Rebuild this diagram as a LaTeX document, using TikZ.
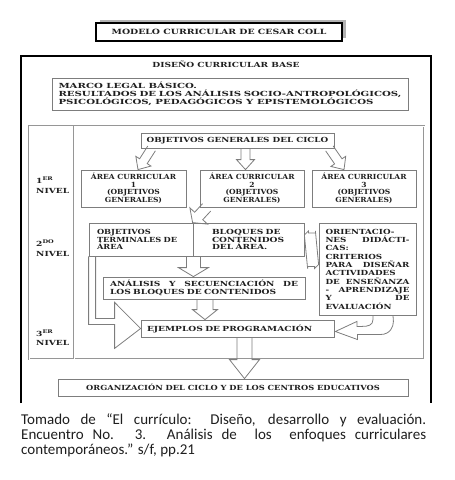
\documentclass[tikz,border=0pt]{standalone}
\usepackage{fontspec}
\setmainfont{Carlito}
\newfontfamily\dfont{DejaVu Serif}
\usetikzlibrary{calc,shadows}
\definecolor{bgray}{RGB}{125,125,125}
\definecolor{lgray}{RGB}{150,150,150}
\definecolor{ink}{RGB}{30,30,30}
\tikzset{
  dtext/.style={font=\dfont\bfseries\fontsize{7}{7.5}\selectfont\addfontfeatures{FakeStretch=#1}, text=ink},
  dtext/.default=1.3,
  box/.style={draw=bgray, line width=0.8pt, dtext=#1, inner sep=0pt},
  box/.default=1.3,
  arrowline/.style={draw=bgray, line width=0.8pt, line join=miter},
  levelbox/.style={draw=lgray, line width=0.5pt, double=white, double distance=0.7pt},
  lvl/.style={font=\dfont\bfseries\fontsize{7}{9.5}\selectfont\addfontfeatures{FakeStretch=1.3}, text=ink, align=left, anchor=west, inner sep=0pt},
}
\newcommand\jline[1]{\hbox to 84pt{#1}}
\newcommand\blockarrow[5]{%
  \draw[arrowline] let \p1=(#1), \p2=(#2),
    \n1={atan2(\y2-\y1,\x2-\x1)}, \n2={veclen(\x2-\x1,\y2-\y1)} in
    ($(\p1)+(\n1+90:#3)$) -- ($(\p1)+(\n1+90:#3)+(\n1:\n2-#5)$)
    -- ($(\p1)+(\n1+90:#4)+(\n1:\n2-#5)$) -- (\p2)
    -- ($(\p1)+(\n1-90:#4)+(\n1:\n2-#5)$) -- ($(\p1)+(\n1-90:#3)+(\n1:\n2-#5)$)
    -- ($(\p1)+(\n1-90:#3)$);
}
\begin{document}
\begin{tikzpicture}[x=1pt,y=-1pt]
\useasboundingbox (0,0) rectangle (455,480);

% title
\node[draw=black, line width=1.8pt, minimum width=246, minimum height=18, inner sep=0pt,
      text=ink, font=\dfont\bfseries\fontsize{7.2}{8}\selectfont\addfontfeatures{FakeStretch=1.3}, fill=white,
      general shadow={fill=gray!60, shadow xshift=4pt, shadow yshift=3pt}]
      (title) at (219,32) {MODELO CURRICULAR DE CESAR COLL};

% outer frame
\draw[black, line width=1.6pt] (21,403) -- (21,56) -- (431,56) -- (431,403);
\node[dtext] (dcb) at (226,64) {DISEÑO CURRICULAR BASE};

\node[box=1.45, minimum height=32, text width=343, inner xsep=6.5pt, align=justify] (marco) at (230,94)
  {MARCO LEGAL BÁSICO.\\
   RESULTADOS\hfill DE\hfill LOS\hfill ANÁLISIS\hfill SOCIO-ANTROPOLÓGICOS,\\
   PSICOLÓGICOS, PEDAGÓGICOS Y EPISTEMOLÓGICOS};

% level frame
\draw[levelbox] (29,126) rectangle (424,359);
\draw[levelbox] (74,126) -- (74,359);

\node[lvl] (n1) at (36,185) {1\textsuperscript{ER}\\NIVEL};
\node[lvl] (n2) at (36,248) {2\textsuperscript{DO}\\NIVEL};
\node[lvl] (n3) at (36,337.5) {3\textsuperscript{ER}\\NIVEL};

% boxes
\node[box=1.26, minimum width=193, minimum height=15] (og) at (237.5,140.5) {OBJETIVOS GENERALES DEL CICLO};
\node[box=1.08, minimum width=105, minimum height=37, align=center] (a1) at (133.5,188.5) {ÁREA CURRICULAR\\1\\(OBJETIVOS\\GENERALES)};
\node[box=1.08, minimum width=104, minimum height=37, align=center] (a2) at (252,188.5) {ÁREA CURRICULAR\\2\\(OBJETIVOS\\GENERALES)};
\node[box=1.08, minimum width=104, minimum height=37, align=center] (a3) at (364,188.5) {ÁREA CURRICULAR\\3\\(OBJETIVOS\\GENERALES)};

\node[box=1.18, minimum height=33, text width=88, inner xsep=8pt, align=left] (ot) at (141,239.5) {OBJETIVOS\\TERMINALES DE\\ÁREA};
\node[box=1.3, minimum height=33, text width=73, inner xsep=19pt, align=left] (bl) at (248.5,239.5) {BLOQUES DE\\CONTENIDOS\\DEL ÁREA.};
\node[box, minimum height=92, minimum width=97, inner sep=0pt,
      font=\dfont\bfseries\fontsize{7}{8.33}\selectfont\addfontfeatures{FakeStretch=1.25}] (or) at (367.5,269)
  {\vbox{\jline{ORIENTACIO-\hfill}\jline{NES\hfill DIDÁCTI-}\jline{CAS:\hfill}\jline{CRITERIOS\hfill}\jline{PARA\hfill DISEÑAR}\jline{ACTIVIDADES\hfill}\jline{DE\hfill ENSEÑANZA}\jline{-\hfill APRENDIZAJE}\jline{Y\hfill DE}\jline{EVALUACIÓN\hfill}}};

\node[box, minimum height=22, text width=188, inner xsep=7pt, align=left] (an) at (204,288)
  {ANÁLISIS\hfill Y\hfill SECUENCIACIÓN\hfill DE\\LOS BLOQUES DE CONTENIDOS};
\node[box, minimum height=17, text width=181, inner xsep=6pt, align=left] (ej) at (237.5,328.5) {EJEMPLOS DE PROGRAMACIÓN};
\node[box=1.18, minimum width=350, minimum height=17] (org) at (233,387.5) {ORGANIZACIÓN DEL CICLO Y DE LOS CENTROS EDUCATIVOS};

% block arrows
\blockarrow{$(og.south west)+(11,0)$}{$(a1.north)+(4.5,0)$}{4.5pt}{9pt}{10pt}
\blockarrow{$(og.south)+(8,0)$}{$(a2.north)+(-6.5,0)$}{4.5pt}{9pt}{10pt}
\blockarrow{$(og.south east)+(-5,0)$}{$(a3.north)+(-20,0)$}{4.5pt}{9pt}{10pt}
\blockarrow{$(a2.south west)+(7,0)$}{bl.north west}{5.5pt}{12pt}{9pt}
\blockarrow{ot.south east}{ot.south east |- an.north}{7pt}{15pt}{9pt}
\blockarrow{$(an.south)+(1,0)$}{$(ej.north)+(-32.5,0)$}{8pt}{12.5pt}{10pt}
\blockarrow{$(ej.south)+(7,0)$}{$(org.north)+(11.5,0)$}{7.5pt}{15pt}{19pt}

% double arrow between bloques and orientaciones
\draw[arrowline] ($(bl.east)+(0,-4.5)$) -- ++(4,-4) -- ++(0,2) -- ++(7,0) -- ++(0,-2)
  -- ($(or.west)+(0,-4.5)$) -- ++(-4,4) -- ++(0,-2) -- ++(-7,0) -- ++(0,2) -- cycle;

% L-shaped arrow from objetivos terminales to ejemplos
\draw[arrowline] ($(ot.south west)+(7,0)$) |- ($(ot.south west)+(26,62)$)
  -- ++(0,-16) -- (ej.west) -- ($(ot.south west)+(26,92)$) -- ++(0,-24)
  -| (ot.south west);

% curved arrow from orientaciones to ejemplos
\draw[arrowline] ($(or.south)+(5.5,0)$) -- ++(0,4)
  .. controls +(0,6) and +(6,0) .. ++(-11,7) -- ++(-5,0) -- ++(0,-5)
  -- ($(ej.east)+(1,3)$) -- ++(22,8) -- ++(0,-5) -- ++(23,0)
  .. controls +(10,0) and +(0,5) .. ++(13,-13) -- ($(or.south)+(25.5,0)$);

% caption
\node[anchor=north west, inner sep=0pt, text width=405, align=justify, text=ink,
      font=\fontsize{15}{15}\selectfont] (cap) at (21,413)
  {Tomado de “El currículo: Diseño, desarrollo y evaluación.\linebreak
   Encuentro No. 3. Análisis de~ los~ enfoques curriculares\linebreak
   contemporáneos.” s/f, pp.21};
\end{tikzpicture}
\end{document}
